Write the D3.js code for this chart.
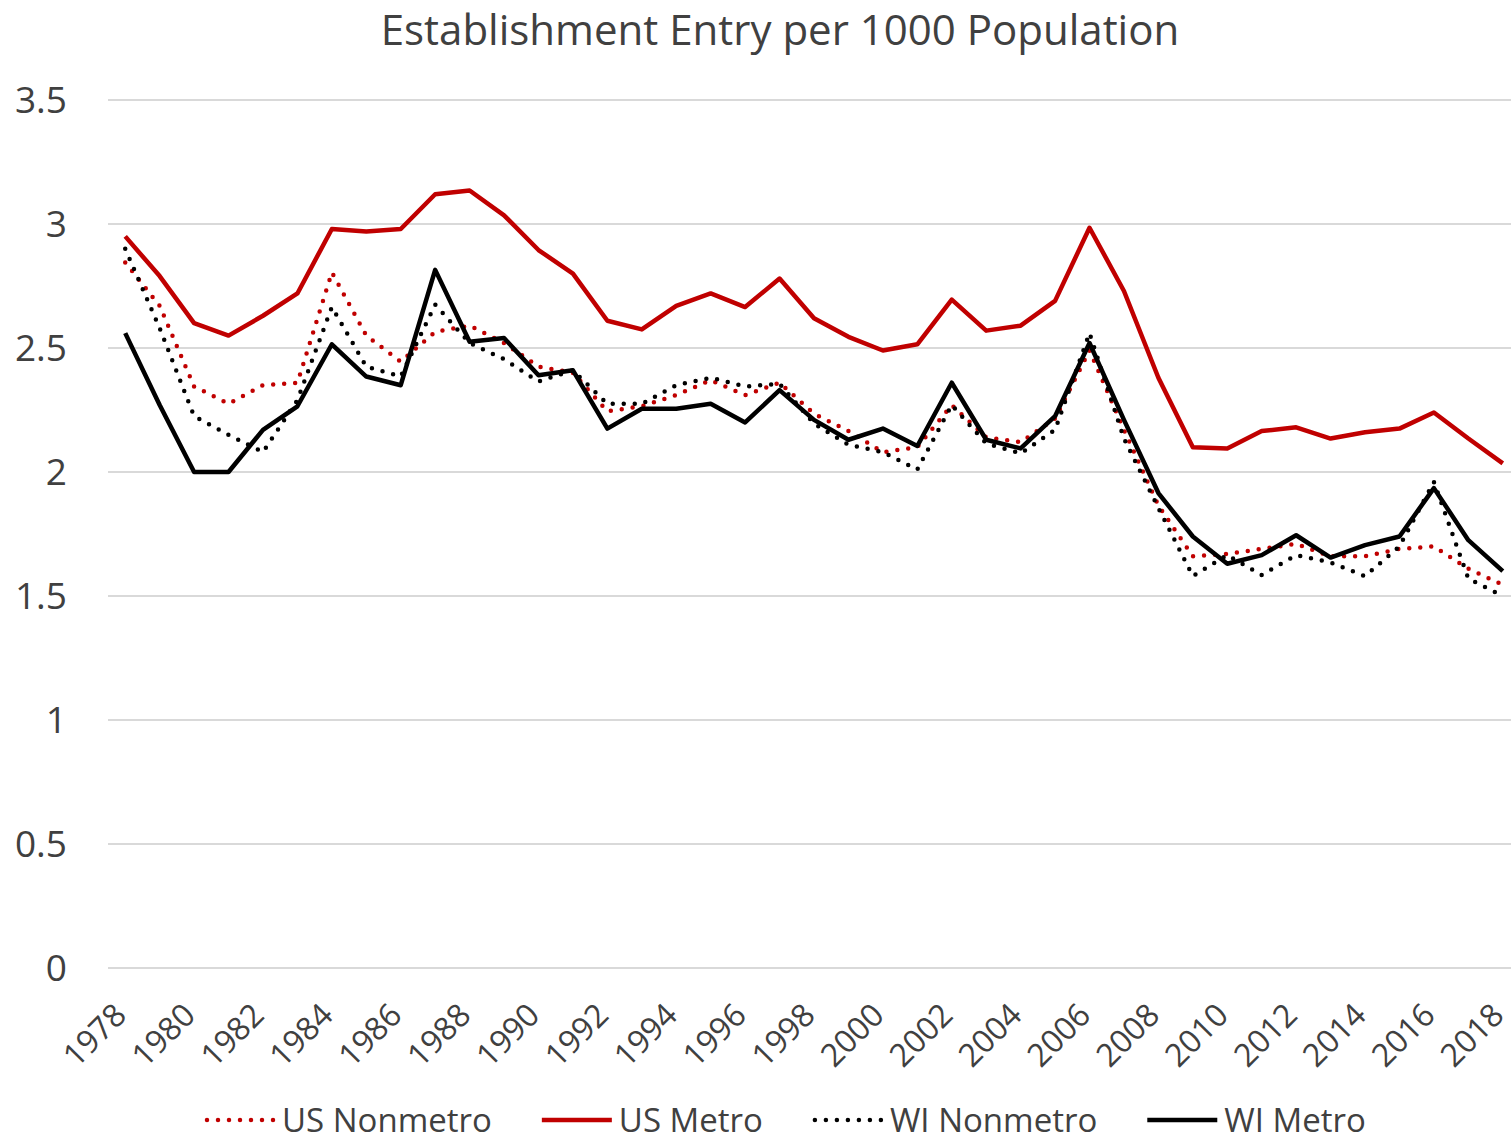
<!DOCTYPE html>
<html>
<head>
<meta charset="utf-8">
<script src="https://cdn.jsdelivr.net/npm/d3@7"></script>
<style>
  html, body { margin: 0; padding: 0; background: #fff; }
  text { font-family: "Open Sans", sans-serif; fill: #404040; }
</style>
</head>
<body>
<svg id="chart" width="1511" height="1141"></svg>
<script>
const years = d3.range(1978, 2019);

const usNonmetro = [2.845, 2.67, 2.345, 2.275, 2.35, 2.36, 2.805, 2.55, 2.445, 2.565, 2.59, 2.52, 2.425, 2.40, 2.245, 2.265, 2.31, 2.37, 2.31, 2.36,
  2.235, 2.165, 2.08, 2.10, 2.27, 2.14, 2.12, 2.215, 2.49, 2.17, 1.865, 1.66, 1.67, 1.69, 1.71, 1.66, 1.66, 1.69, 1.70, 1.61, 1.545];
const usMetro = [2.95, 2.79, 2.60, 2.55, 2.63, 2.72, 2.98, 2.97, 2.98, 3.12, 3.135, 3.035, 2.895, 2.80, 2.61, 2.575, 2.67, 2.72, 2.665, 2.78,
  2.62, 2.545, 2.49, 2.515, 2.695, 2.57, 2.59, 2.69, 2.985, 2.73, 2.38, 2.10, 2.095, 2.165, 2.18, 2.135, 2.16, 2.175, 2.24, 2.135, 2.035];
const wiNonmetro = [2.90, 2.58, 2.225, 2.15, 2.08, 2.29, 2.665, 2.425, 2.385, 2.675, 2.52, 2.455, 2.365, 2.41, 2.275, 2.275, 2.35, 2.38, 2.345, 2.355,
  2.195, 2.11, 2.08, 2.01, 2.27, 2.115, 2.075, 2.17, 2.56, 2.135, 1.855, 1.58, 1.665, 1.585, 1.665, 1.635, 1.58, 1.70, 1.96, 1.57, 1.50];
const wiMetro = [2.56, 2.27, 2.00, 2.00, 2.17, 2.265, 2.515, 2.385, 2.35, 2.815, 2.525, 2.54, 2.39, 2.41, 2.175, 2.255, 2.255, 2.275, 2.20, 2.33,
  2.21, 2.13, 2.175, 2.105, 2.36, 2.13, 2.095, 2.225, 2.52, 2.21, 1.915, 1.74, 1.63, 1.665, 1.745, 1.655, 1.705, 1.74, 1.935, 1.725, 1.60];

const yTicks = [0, 0.5, 1, 1.5, 2, 2.5, 3, 3.5];
const xTickYears = years.filter(y => (y - 1978) % 2 === 0);

const series = [
  { name: "US Nonmetro", values: usNonmetro, color: "#C00000", dotted: true },
  { name: "US Metro", values: usMetro, color: "#C00000", dotted: false },
  { name: "WI Nonmetro", values: wiNonmetro, color: "#000000", dotted: true },
  { name: "WI Metro", values: wiMetro, color: "#000000", dotted: false },
];

const svg = d3.select("#chart");

const x = d3.scaleBand().domain(years).range([108, 1520]);
const y = d3.scaleLinear().domain([0, 3.5]).range([968, 100]);
const cx = d => x(d) + x.bandwidth() / 2;

// title
svg.append("text")
  .attr("x", 780).attr("y", 45)
  .attr("text-anchor", "middle")
  .attr("font-size", 42)
  .text("Establishment Entry per 1000 Population");

// gridlines + y labels
svg.append("g").selectAll("line")
  .data(yTicks)
  .join("line")
  .attr("x1", 108).attr("x2", 1520)
  .attr("y1", d => y(d)).attr("y2", d => y(d))
  .attr("stroke", "#D9D9D9").attr("stroke-width", 2);

svg.append("g").selectAll("text")
  .data(yTicks)
  .join("text")
  .attr("x", 67).attr("y", d => y(d))
  .attr("dy", "0.36em")
  .attr("text-anchor", "end")
  .attr("font-size", 37)
  .text(d => d);

// x labels
svg.append("g").selectAll("text")
  .data(xTickYears)
  .join("text")
  .attr("transform", d => `translate(${cx(d) + 3},1017) rotate(-45)`)
  .attr("text-anchor", "end")
  .attr("font-size", 32)
  .text(d => d);

// lines
const line = d3.line()
  .x((d, i) => cx(years[i]))
  .y(d => y(d));

svg.append("g").selectAll("path")
  .data(series)
  .join("path")
  .attr("d", d => line(d.values))
  .attr("fill", "none")
  .attr("stroke", d => d.color)
  .attr("stroke-width", 4.5)
  .attr("stroke-linejoin", "round")
  .attr("stroke-linecap", d => d.dotted ? "round" : "butt")
  .attr("stroke-dasharray", d => d.dotted ? "0 11" : null);

// legend
const legend = svg.append("g");
let lx = 205;
const ly = 1120;
series.forEach(s => {
  legend.append("line")
    .attr("x1", lx + (s.dotted ? 2 : 0)).attr("x2", lx + 70)
    .attr("y1", ly).attr("y2", ly)
    .attr("stroke", s.color).attr("stroke-width", 4.5)
    .attr("stroke-linecap", s.dotted ? "round" : "butt")
    .attr("stroke-dasharray", s.dotted ? "0 11" : null);
  const t = legend.append("text")
    .attr("x", lx + 77).attr("y", ly)
    .attr("dy", "0.36em")
    .attr("font-size", 33)
    .text(s.name);
  lx += 77 + t.node().getComputedTextLength() + 50;
});
</script>
</body>
</html>
